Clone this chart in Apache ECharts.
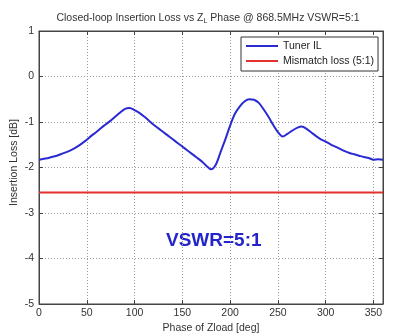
<!DOCTYPE html>
<html>
<head>
<meta charset="utf-8">
<script src="https://cdn.jsdelivr.net/npm/echarts@6/dist/echarts.min.js"></script>
<style>
html,body{margin:0;padding:0;background:#fff;}
#c{width:399px;height:336px;}
</style>
</head>
<body>
<div id="c"></div>
<script>
// Data
const phaseDeg = [0,5,10,15,20,25,30,35,40,45,50,55,60,65,70,75,80,85,90,95,100,105,110,115,120,125,130,135,140,145,150,155,160,165,170,175,180,185,190,195,200,205,210,215,220,225,230,235,240,245,250,255,260,265,270,275,280,285,290,295,300,305,310,315,320,325,330,335,340,345,350,355,360];
const tunerIL = [-1.83,-1.81,-1.79,-1.76,-1.73,-1.69,-1.65,-1.60,-1.54,-1.47,-1.39,-1.30,-1.22,-1.13,-1.05,-0.97,-0.88,-0.79,-0.71,-0.69,-0.74,-0.80,-0.88,-0.97,-1.06,-1.14,-1.22,-1.30,-1.38,-1.46,-1.54,-1.62,-1.70,-1.78,-1.86,-1.96,-2.04,-1.94,-1.66,-1.38,-1.08,-0.82,-0.66,-0.55,-0.50,-0.51,-0.58,-0.72,-0.88,-1.06,-1.22,-1.32,-1.26,-1.19,-1.13,-1.10,-1.15,-1.23,-1.31,-1.38,-1.43,-1.49,-1.54,-1.59,-1.64,-1.68,-1.71,-1.74,-1.77,-1.79,-1.83,-1.82,-1.83];
const mismatchLoss = -2.55;
const xTicks = [0,50,100,150,200,250,300,350];
const yTicks = [1,0,-1,-2,-3,-4,-5];

const FONT = '"Liberation Sans", Arial, Helvetica, sans-serif';
const chart = echarts.init(document.getElementById('c'), null, {renderer:'canvas'});

const ilData = phaseDeg.map((x,i)=>[x, tunerIL[i]]);
const mlData = phaseDeg.map(x=>[x, mismatchLoss]);

const gridLine = {show:true, lineStyle:{color:'#9a9a9a', type:[1,2], width:1}};
const axisLine = {show:true, onZero:false, lineStyle:{color:'#444', width:1}};

chart.setOption({
  animation:false,
  backgroundColor:'#fff',
  textStyle:{fontFamily:FONT},
  title:{
    text:'{a|Closed-loop Insertion Loss vs Z}{s|L}{a| Phase @ 868.5MHz VSWR=5:1}',
    left:203, top:7, textAlign:'center',
    textStyle:{fontWeight:'normal', rich:{
      a:{fontSize:10.5, color:'#333', fontFamily:FONT, fontWeight:'normal'},
      s:{fontSize:7, color:'#333', fontFamily:FONT, fontWeight:'normal', verticalAlign:'bottom', padding:[6,0,0,0]}
    }}
  },
  grid:{left:39, right:16, top:31, bottom:32, show:true, borderColor:'#444', borderWidth:1, backgroundColor:'#fff', containLabel:false, outerBoundsMode:'none'},
  legend:{
    orient:'vertical', left:241, top:37,
    padding:[3,4,4,5], itemGap:3, itemWidth:32, itemHeight:2,
    backgroundColor:'#fff', borderColor:'#333', borderWidth:1,
    textStyle:{fontSize:10.5, color:'#222', fontFamily:FONT, lineHeight:12},
    data:[{name:'Tuner IL', icon:'rect'},{name:'Mismatch loss (5:1)', icon:'rect'}]
  },
  xAxis:[{
    type:'value', min:0, max:360, interval:50,
    name:'Phase of Zload [deg]', nameLocation:'middle', nameGap:19, nameMoveOverlap:false,
    nameTextStyle:{fontSize:10.5, color:'#333', fontFamily:FONT},
    axisLine:axisLine,
    axisTick:{show:true, inside:true, length:4, lineStyle:{color:'#444'}},
    axisLabel:{fontSize:10.5, color:'#333', margin:4, showMaxLabel:false,
      formatter:v=> xTicks.indexOf(v)>=0 ? String(v) : ''},
    splitLine:gridLine
  },{
    type:'value', min:0, max:360, interval:50, position:'top',
    axisLine:axisLine, axisLabel:{show:false}, splitLine:{show:false},
    axisTick:{show:true, inside:true, length:4, lineStyle:{color:'#444'}}
  }],
  yAxis:[{
    type:'value', min:-5, max:1, interval:1,
    name:'Insertion Loss [dB]', nameLocation:'middle', nameGap:19, nameRotate:90, nameMoveOverlap:false,
    nameTextStyle:{fontSize:10.5, color:'#333', fontFamily:FONT, padding:[0,0,0,10]},
    axisLine:axisLine,
    axisTick:{show:true, inside:true, length:4, lineStyle:{color:'#444'}},
    axisLabel:{fontSize:10.5, color:'#333', margin:5,
      formatter:v=> yTicks.indexOf(v)>=0 ? String(v) : ''},
    splitLine:gridLine
  },{
    type:'value', min:-5, max:1, interval:1, position:'right',
    axisLine:axisLine, axisLabel:{show:false}, splitLine:{show:false},
    axisTick:{show:true, inside:true, length:4, lineStyle:{color:'#444'}}
  }],
  series:[
    {name:'Tuner IL', type:'line', data:ilData, showSymbol:false, smooth:0.3,
     itemStyle:{color:'#2a2ad2'}, lineStyle:{color:'#2a2ad2', width:2}, z:3},
    {name:'Mismatch loss (5:1)', type:'line', data:mlData, showSymbol:false,
     itemStyle:{color:'#e3312d'}, lineStyle:{color:'#e3312d', width:2}, z:2}
  ],
  graphic:[{
    type:'text', left:166, top:231,
    style:{text:'VSWR=5:1', fontSize:19, fontWeight:'bold', fill:'#2424cc', fontFamily:FONT}
  }]
});
</script>
</body>
</html>
